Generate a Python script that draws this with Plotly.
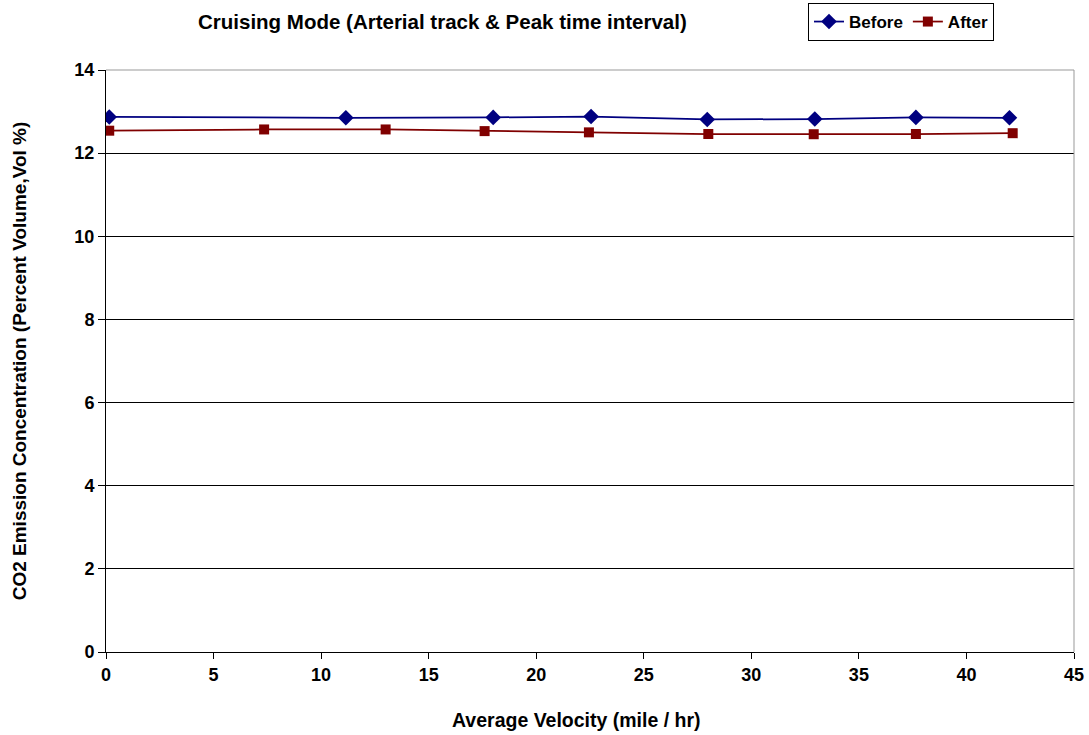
import plotly.graph_objects as go

# Average velocity (mile/hr) and CO2 concentration (Vol %)
before_speed = [0.15, 11.15, 18.0, 22.55, 27.95, 32.95, 37.65, 42.0]
before_co2 = [12.87, 12.85, 12.86, 12.88, 12.81, 12.82, 12.86, 12.85]

after_speed = [0.15, 7.35, 13.0, 17.6, 22.45, 28.0, 32.9, 37.65, 42.15]
after_co2 = [12.54, 12.57, 12.57, 12.53, 12.50, 12.46, 12.455, 12.46, 12.48]

x_ticks = [0, 5, 10, 15, 20, 25, 30, 35, 40, 45]
y_ticks = [0, 2, 4, 6, 8, 10, 12, 14]

FONT = "Liberation Sans, Arial, sans-serif"
W, H = 1089, 735
L, R, T, B = 106, 15, 70, 83
pw, ph = W - L - R, H - T - B


def px_x(x):
    return (x - L) / pw


def px_y(y):
    return (H - B - y) / ph


fig = go.Figure()
fig.add_trace(go.Scatter(
    x=before_speed, y=before_co2, name="Before", mode="lines+markers",
    line=dict(color="#000080", width=1.75),
    marker=dict(symbol="diamond", size=12, color="#000080"),
))
fig.add_trace(go.Scatter(
    x=after_speed, y=after_co2, name="After", mode="lines+markers",
    line=dict(color="#800000", width=1.75),
    marker=dict(symbol="square", size=10, color="#800000"),
))

fig.update_layout(
    width=W, height=H,
    margin=dict(l=L, r=R, t=T, b=B, autoexpand=False),
    plot_bgcolor="white", paper_bgcolor="white",
    font=dict(family=FONT, size=17, color="black"),
    showlegend=True,
    legend=dict(
        orientation="h",
        x=px_x(808), y=px_y(3), xanchor="left", yanchor="top",
        bordercolor="black", borderwidth=1,
        font=dict(family=FONT, size=17, color="black", weight="bold"),
        itemwidth=30, tracegroupgap=0,
    ),
    annotations=[
        dict(
            text="<b>Cruising Mode (Arterial track & Peak time interval)</b>",
            x=px_x(442), y=px_y(21), xref="paper", yref="paper",
            showarrow=False, xanchor="center", yanchor="middle",
            font=dict(family=FONT, size=20.5, color="black"),
        ),
        dict(
            text="<b>Average Velocity (mile / hr)</b>",
            x=px_x(576), y=px_y(720), xref="paper", yref="paper",
            showarrow=False, xanchor="center", yanchor="middle",
            font=dict(family=FONT, size=19.5, color="black"),
        ),
    ],
)

fig.update_xaxes(
    range=[0, 45], tickvals=x_ticks, ticktext=[str(v) for v in x_ticks],
    showgrid=False, zeroline=False,
    showline=True, linecolor="black", linewidth=1,
    ticks="outside", ticklen=6, tickcolor="black",
    tickfont=dict(family=FONT, size=18, weight="bold"),
)
fig.update_yaxes(
    range=[0, 14], tickvals=y_ticks, ticktext=[str(v) for v in y_ticks],
    showgrid=True, gridcolor="black", gridwidth=1, zeroline=False,
    showline=True, linecolor="black", linewidth=1,
    ticks="outside", ticklen=7, tickcolor="black",
    tickfont=dict(family=FONT, size=18, weight="bold"),
    title=dict(text="<b>CO2 Emission Concentration (Percent Volume,Vol %)</b>",
               standoff=42, font=dict(family=FONT, size=19)),
)

# Gray frame on top and right
fig.add_shape(type="line", xref="paper", yref="paper", x0=0, x1=1, y0=1, y1=1,
              line=dict(color="#999999", width=1))
fig.add_shape(type="line", xref="paper", yref="paper", x0=1, x1=1, y0=0, y1=1,
              line=dict(color="#999999", width=1))

fig.write_html("out.html")
